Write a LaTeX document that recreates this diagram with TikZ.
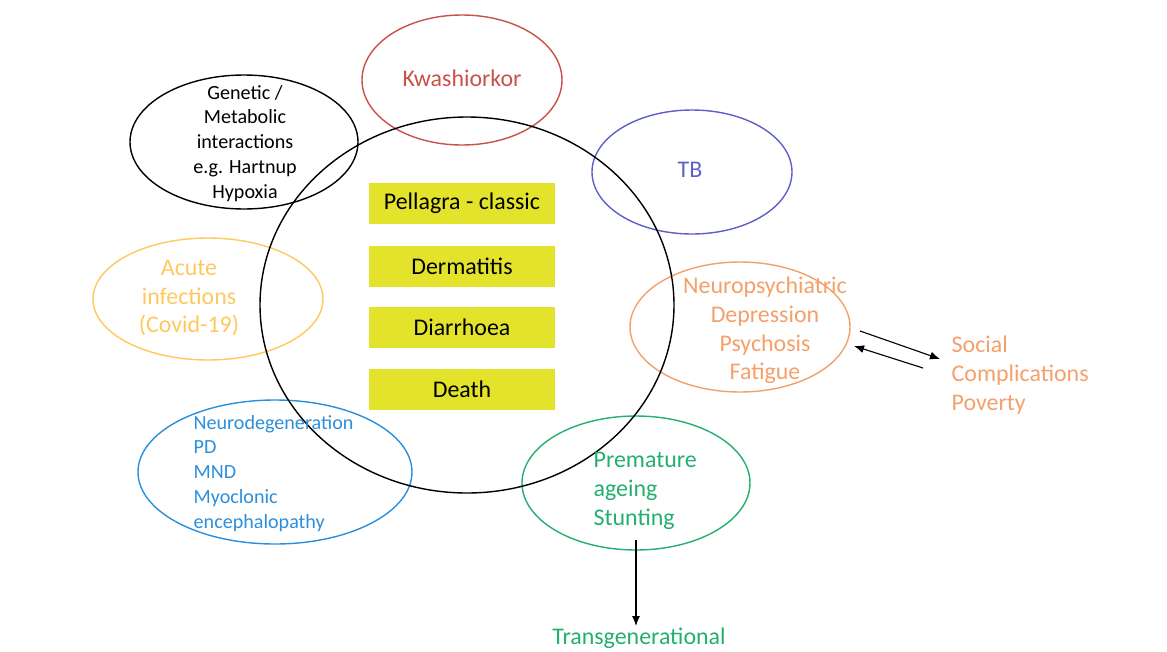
\documentclass[tikz,border=0pt]{standalone}
\usepackage{fontspec}
\setmainfont{Carlito}
\usetikzlibrary{arrows.meta}
\definecolor{kwred}{RGB}{200,82,72}
\definecolor{tbblue}{RGB}{95,95,200}
\definecolor{acuteorange}{RGB}{255,200,95}
\definecolor{psychorange}{RGB}{244,160,106}
\definecolor{degblue}{RGB}{43,143,219}
\definecolor{premgreen}{RGB}{35,175,110}
\definecolor{boxyellow}{RGB}{227,227,43}
\begin{document}
\begin{tikzpicture}[x=0.025cm, y=-0.025cm, >={Latex[length=2.5mm, width=2mm]},
   ring/.style={line width=1pt},
   big/.style={font=\fontsize{17}{20.5}\selectfont, inner sep=1pt},
   small/.style={font=\fontsize{14.3}{17.7}\selectfont, inner sep=1pt},
   feature/.style={big, fill=boxyellow, minimum width=4.625cm, minimum height=1.025cm}
   ]
   \useasboundingbox (0,0) rectangle (1167,652);

   % outer ellipses
   \draw[ring, kwred] (462,80) ellipse [x radius=100, y radius=65];
   \draw[ring, black] (244,142) ellipse [x radius=114, y radius=67];
   \draw[ring, tbblue] (692,172) ellipse [x radius=100, y radius=62];
   \draw[ring, acuteorange] (208,299) ellipse [x radius=115, y radius=61];
   \draw[ring, psychorange] (740,327) ellipse [x radius=110, y radius=65];
   \draw[ring, degblue] (275,472) ellipse [x radius=137, y radius=72];
   \draw[ring, premgreen] (636,483) ellipse [x radius=114, y radius=67];

   % central ellipse
   \draw[ring, black] (467,305) ellipse [x radius=207, y radius=188];

   \path (462,203.5) node[feature] (pellagra) {Pellagra - classic}
   (462,266.5) node[feature] (dermatitis) {Dermatitis}
   (462,327.5) node[feature] (diarrhoea) {Diarrhoea}
   (462,389.5) node[feature] (death) {Death};

   \path (462,78) node[big, text=kwred] (kwash) {Kwashiorkor}
   (245,143.5) node[small, align=center] (genetic) {Genetic /\\Metabolic\\interactions\\e.g. Hartnup\\Hypoxia}
   (690,170) node[big, text=tbblue] (tb) {TB}
   (189,298) node[big, text=acuteorange, align=center] (acute) {Acute\\infections\\(Covid-19)}
   (765,330.5) node[big, text=psychorange, align=center] (psych) {Neuropsychiatric\\Depression\\Psychosis\\Fatigue}
   (950,375) node[big, text=psychorange, align=left, anchor=west] (social) {Social\\Complications\\Poverty}
   (192,473.5) node[small, text=degblue, align=left, anchor=west] (neurodeg) {Neurodegeneration\\PD\\MND\\Myoclonic\\encephalopathy}
   (592,491) node[big, text=premgreen, align=left, anchor=west] (premature) {Premature\\ageing\\Stunting}
   (639,626) node[big, text=premgreen, anchor=north] (trans) {Transgenerational};

   \coordinate (psychout) at (860,331);
   \coordinate (socialin) at (940,359);
   \coordinate (socialout) at (923,368);
   \coordinate (psychin) at (854,346);
   \coordinate (prembottom) at (636,540);

   \draw[->, thick] (psychout) -- (socialin);
   \draw[->, thick] (socialout) -- (psychin);
   \draw[->, thick] (prembottom) -- (prembottom |- trans.north);
\end{tikzpicture}
\end{document}
